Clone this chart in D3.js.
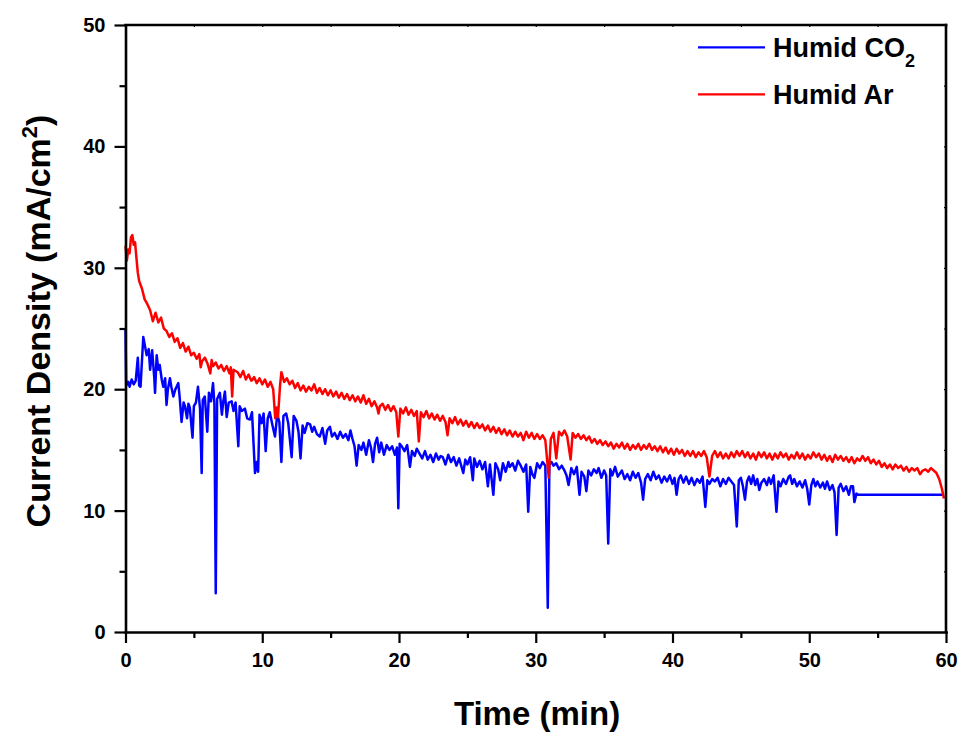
<!DOCTYPE html>
<html>
<head>
<meta charset="utf-8">
<script src="https://cdn.jsdelivr.net/npm/d3@7"></script>
<style>
  html, body { margin: 0; padding: 0; background: #fff; }
  svg { display: block; font-family: "Liberation Sans", Arial, sans-serif; font-weight: bold; }
</style>
</head>
<body>
<svg id="chart" width="963" height="733"></svg>
<script>
// ---------------- data ----------------
const xTicks = [0, 10, 20, 30, 40, 50, 60];
const xMinorTicks = [5, 15, 25, 35, 45, 55];
const yTicks = [0, 10, 20, 30, 40, 50];
const yMinorTicks = [5, 15, 25, 35, 45];
const seriesNames = ["Humid CO2", "Humid Ar"];
const seriesColors = ["#0000ff", "#ff0000"];

// Humid Ar: [time (min), current density (mA/cm2)]
const arData = [
[0,31.8],[0.1,30.6],[0.2,31.5],[0.3,31.2],[0.4,32.5],[0.5,32.7],[0.6,31.9],[0.7,32.1],[0.8,30.8],[0.9,29.6],
[1.0,28.9],[1.2,28.3],[1.4,27.4],[1.6,27.0],[1.8,26.5],[2.0,25.6],[2.2,26.3],[2.4,25.5],[2.6,25.9],[2.8,25.0],
[3.0,24.8],[3.2,24.3],[3.4,24.6],[3.6,23.9],[3.8,24.2],[4.0,23.4],[4.2,23.8],[4.4,23.1],[4.6,23.5],[4.8,22.8],
[5.0,23.0],[5.2,22.5],[5.4,22.9],[5.5,21.8],[5.6,22.3],[5.8,22.6],[6.0,22.1],[6.2,21.3],[6.3,22.4],[6.4,21.9],[6.6,22.2],[6.8,21.7],
[7.0,22.0],[7.2,21.5],[7.4,21.9],[7.6,21.3],[7.7,21.8],[7.8,19.4],[7.9,21.6],[8.2,21.4],[8.4,21.0],[8.6,21.5],[8.8,20.8],
[9.0,21.2],[9.2,20.7],[9.3,20.8],[9.4,21.0],[9.6,20.5],[9.8,20.9],[10.0,20.4],[10.2,20.8],[10.4,20.2],[10.6,20.6],[10.8,20.0],
[10.95,17.6],[11.05,18.5],[11.15,17.7],[11.3,20.3],[11.4,21.4],[11.6,20.6],[11.8,20.9],[12.0,20.4],[12.2,20.7],[12.4,20.1],
[12.6,20.5],[12.8,19.9],[13.0,20.3],[13.2,19.8],[13.4,20.2],[13.6,19.9],[13.8,20.4],[14.0,19.7],[14.2,20.1],[14.4,19.6],
[14.6,20.0],[14.8,19.5],[15.0,19.9],[15.2,19.4],[15.4,19.8],[15.6,19.3],[15.8,19.7],[16.0,19.2],[16.2,19.6],[16.4,19.1],
[16.6,19.5],[16.8,19.0],[17.0,19.4],[17.2,18.9],[17.4,19.5],[17.6,18.8],[17.8,19.2],[18.0,18.6],[18.2,19.0],[18.4,18.5],
[18.5,18.0],[18.6,18.6],[18.8,18.8],[19.0,18.3],[19.2,18.7],[19.4,18.2],[19.6,18.6],[19.8,18.1],[19.95,16.1],[20.1,18.4],
[20.3,18.0],[20.5,18.5],[20.7,17.9],[20.9,18.3],[21.1,17.8],[21.3,18.2],[21.45,15.7],[21.6,18.1],[21.8,17.7],[22.0,18.2],
[22.2,17.6],[22.4,18.0],[22.6,17.5],[22.8,17.9],[23.0,17.4],[23.2,17.8],[23.4,17.3],[23.55,16.2],[23.7,17.6],[23.9,17.2],
[24.1,17.7],[24.3,17.1],[24.5,17.5],[24.7,17.0],[24.9,17.4],[25.1,16.9],[25.3,17.3],[25.5,16.8],[25.7,17.2],[25.9,16.8],
[26.1,17.1],[26.3,16.6],[26.5,17.0],[26.7,16.5],[26.9,16.9],[27.1,16.4],[27.3,16.8],[27.5,16.3],[27.7,16.7],[27.9,16.2],
[28.1,16.6],[28.3,16.1],[28.5,16.5],[28.7,16.1],[28.9,16.4],[29.1,15.8],[29.3,16.5],[29.5,16.0],[29.7,16.4],[29.9,15.9],
[30.1,16.3],[30.3,15.9],[30.5,16.2],[30.7,15.8],[30.95,12.7],[31.1,15.9],[31.3,16.4],[31.5,14.3],[31.7,16.5],[31.9,16.2],
[32.1,16.6],[32.3,16.1],[32.55,14.2],[32.7,16.4],[32.9,16.0],[33.1,16.3],[33.3,15.9],[33.5,16.2],[33.7,15.8],[33.9,16.1],
[34.1,15.6],[34.3,15.9],[34.5,15.5],[34.7,15.8],[34.9,15.4],[35.1,15.7],[35.3,15.3],[35.5,15.6],[35.7,15.1],[35.9,15.5],
[36.1,15.2],[36.3,15.6],[36.5,15.1],[36.7,15.5],[36.9,15.0],[37.1,15.4],[37.3,15.1],[37.5,15.5],[37.7,15.0],[37.9,15.4],
[38.1,15.1],[38.3,15.5],[38.5,15.0],[38.7,15.3],[38.9,14.9],[39.1,15.3],[39.3,14.8],[39.5,15.2],[39.7,14.7],[39.9,15.1],
[40.1,14.6],[40.3,15.1],[40.5,14.7],[40.7,15.0],[40.9,14.5],[41.1,14.9],[41.3,14.5],[41.5,14.9],[41.7,14.4],[41.9,14.8],
[42.1,14.5],[42.3,14.9],[42.5,14.4],[42.7,12.8],[42.9,14.5],[43.1,14.9],[43.3,14.4],[43.5,14.8],[43.7,14.3],[43.9,14.7],
[44.1,14.3],[44.3,14.8],[44.5,14.4],[44.7,14.9],[44.9,14.5],[45.1,14.9],[45.3,14.4],[45.5,14.8],[45.7,14.3],[45.9,14.7],
[46.1,14.2],[46.3,14.8],[46.5,14.4],[46.7,14.8],[46.9,14.3],[47.1,14.7],[47.3,14.2],[47.5,14.7],[47.7,14.3],[47.9,14.8],
[48.1,14.4],[48.3,14.7],[48.5,14.2],[48.7,14.6],[48.9,14.3],[49.1,14.8],[49.3,14.3],[49.5,14.7],[49.7,14.2],[49.9,14.6],
[50.1,14.3],[50.3,14.8],[50.5,14.4],[50.7,14.7],[50.9,14.2],[51.1,14.6],[51.3,14.1],[51.5,14.5],[51.7,14.0],[51.9,14.6],
[52.1,14.2],[52.3,14.5],[52.5,14.1],[52.7,14.4],[52.9,14.0],[53.1,14.4],[53.3,13.9],[53.5,14.3],[53.7,14.1],[53.9,14.5],
[54.1,14.1],[54.3,14.4],[54.5,13.9],[54.7,14.2],[54.9,13.8],[55.1,14.1],[55.3,13.6],[55.5,13.9],[55.7,13.5],[55.9,13.8],
[56.1,13.4],[56.3,13.8],[56.5,13.5],[56.7,13.7],[56.9,13.3],[57.1,13.6],[57.3,13.2],[57.5,13.5],[57.7,13.3],[57.9,13.5],
[58.1,13.0],[58.3,13.3],[58.5,13.4],[58.7,13.2],[58.9,13.5],[59.1,13.3],[59.3,13.1],[59.5,12.6],[59.7,11.8],[59.85,11.0]
];

// Humid CO2: [time (min), current density (mA/cm2)]
const co2Data = [
[0,24.9],[0.05,20.3],[0.2,20.6],[0.3,20.2],[0.45,20.8],[0.6,20.4],[0.75,20.7],[0.9,22.6],[1.0,20.3],[1.1,20.2],
[1.3,24.3],[1.45,23.4],[1.55,22.8],[1.7,23.3],[1.8,21.6],[1.95,23.2],[2.1,21.0],[2.16,19.7],[2.28,22.8],[2.4,21.6],
[2.5,22.0],[2.65,20.8],[2.76,20.2],[2.9,20.9],[3.0,18.7],[3.1,20.0],[3.25,20.9],[3.35,20.2],[3.5,19.4],[3.65,20.0],
[3.86,20.5],[3.95,19.5],[4.1,17.3],[4.25,18.9],[4.35,18.6],[4.5,17.6],[4.6,18.8],[4.7,18.5],[4.9,16.0],[5.0,18.6],
[5.15,18.9],[5.3,20.2],[5.45,18.4],[5.57,13.1],[5.65,19.1],[5.8,19.4],[5.98,16.5],[6.1,19.7],[6.25,19.0],[6.4,20.5],
[6.5,18.8],[6.6,3.2],[6.7,19.2],[6.9,19.7],[7.05,17.9],[7.15,19.0],[7.27,19.8],[7.4,17.7],[7.55,18.9],[7.76,19.0],
[7.9,18.2],[8.05,18.9],[8.25,15.3],[8.35,18.6],[8.5,18.2],[8.73,18.4],[8.9,17.6],[9.1,17.5],[9.25,18.1],[9.47,13.1],
[9.6,14.0],[9.7,13.2],[9.8,17.9],[9.95,17.2],[10.1,18.0],[10.25,14.9],[10.4,17.6],[10.55,18.1],[10.75,17.0],[10.93,16.1],
[11.1,17.9],[11.25,17.3],[11.4,14.0],[11.55,17.8],[11.75,18.0],[11.9,17.2],[12.15,14.4],[12.3,17.8],[12.5,17.4],[12.65,16.5],
[12.8,14.3],[12.95,17.0],[13.1,16.4],[13.3,17.2],[13.5,17.1],[13.65,16.5],[13.8,16.9],[14.0,16.3],[14.2,16.1],[14.4,16.8],
[14.6,15.5],[14.75,16.6],[14.95,16.9],[15.1,16.1],[15.3,16.4],[15.5,15.9],[15.7,16.5],[15.9,16.0],[16.1,16.3],[16.3,15.8],
[16.45,16.6],[16.6,15.9],[16.75,15.3],[16.9,13.7],[17.05,15.4],[17.25,15.0],[17.4,15.6],[17.6,14.6],[17.8,15.8],[17.95,15.2],
[18.1,14.0],[18.25,15.5],[18.4,16.0],[18.55,14.8],[18.7,15.6],[18.9,14.6],[19.1,15.4],[19.3,15.0],[19.5,15.3],[19.7,14.6],
[19.85,15.2],[19.95,10.2],[20.05,15.5],[20.2,15.3],[20.4,14.9],[20.6,15.4],[20.8,13.6],[20.95,14.9],[21.15,14.5],[21.3,15.1],
[21.5,14.7],[21.7,14.3],[21.9,14.9],[22.1,14.2],[22.3,14.6],[22.5,14.0],[22.7,14.7],[22.9,14.2],[23.05,14.5],[23.2,14.4],
[23.4,13.8],[23.6,14.6],[23.8,14.0],[24.0,14.4],[24.2,13.7],[24.4,14.3],[24.6,13.5],[24.7,13.1],[24.85,14.2],[25.0,13.8],
[25.2,14.4],[25.4,12.5],[25.5,14.3],[25.7,13.6],[25.9,14.1],[26.1,13.4],[26.3,14.0],[26.5,12.0],[26.65,13.8],[26.9,11.3],
[27.05,13.9],[27.25,13.4],[27.4,12.5],[27.6,13.9],[27.8,13.2],[28.0,14.0],[28.1,13.6],[28.3,13.9],[28.5,13.3],[28.7,14.1],
[28.9,13.7],[29.1,13.2],[29.3,13.8],[29.45,9.9],[29.6,13.6],[29.75,13.0],[29.9,12.7],[30.1,13.9],[30.3,13.5],[30.5,14.0],
[30.7,13.7],[30.88,2.0],[31.0,13.8],[31.15,14.0],[31.3,13.7],[31.5,13.9],[31.7,13.4],[31.9,13.7],[32.1,13.3],[32.25,12.9],
[32.4,12.1],[32.6,13.5],[32.8,13.0],[33.0,13.6],[33.2,11.3],[33.35,13.2],[33.55,12.8],[33.7,11.6],[33.85,13.3],[34.05,12.9],
[34.25,13.4],[34.45,13.1],[34.6,13.5],[34.8,12.7],[35.0,13.3],[35.15,12.9],[35.3,7.3],[35.45,13.4],[35.6,12.9],[35.8,13.6],
[36.0,12.8],[36.3,13.3],[36.5,12.6],[36.7,13.0],[36.9,12.5],[37.1,13.2],[37.3,12.7],[37.5,13.1],[37.7,12.3],[37.85,10.9],
[38.0,12.6],[38.2,13.0],[38.4,12.5],[38.6,13.2],[38.8,12.6],[39.0,12.9],[39.2,12.3],[39.4,12.8],[39.6,12.4],[39.8,12.9],
[40.0,12.2],[40.15,12.7],[40.3,11.3],[40.45,12.6],[40.6,12.9],[40.8,12.3],[41.0,12.8],[41.2,12.2],[41.4,12.7],[41.6,12.1],
[41.8,12.6],[42.0,12.3],[42.2,12.8],[42.4,10.3],[42.55,12.5],[42.7,12.2],[42.9,12.6],[43.1,12.4],[43.3,12.7],[43.5,12.0],
[43.7,12.6],[43.9,12.2],[44.1,12.7],[44.3,12.4],[44.5,12.1],[44.7,8.7],[44.85,12.5],[45.0,12.7],[45.15,12.0],[45.3,10.9],
[45.45,12.4],[45.6,12.8],[45.75,12.2],[45.9,12.9],[46.05,12.1],[46.2,12.6],[46.35,11.7],[46.5,12.3],[46.7,12.6],[46.9,12.1],
[47.05,12.7],[47.2,12.2],[47.4,12.9],[47.6,9.9],[47.75,12.4],[47.9,12.0],[48.1,12.6],[48.3,12.2],[48.5,12.8],[48.6,12.9],
[48.75,12.2],[48.9,12.6],[49.1,12.0],[49.3,12.4],[49.5,11.9],[49.7,12.5],[49.85,11.8],[50.0,10.5],[50.15,12.1],[50.3,12.6],
[50.45,12.0],[50.6,12.4],[50.8,11.9],[51.0,12.3],[51.15,11.8],[51.3,12.4],[51.5,11.7],[51.7,12.1],[51.85,11.5],[52.0,8.0],
[52.15,11.9],[52.3,12.2],[52.5,11.6],[52.7,12.0],[52.9,11.3],[53.05,12.0],[53.2,12.0],[53.3,10.7],[53.45,11.4],[53.6,11.3],
[59.8,11.3]
];

// ---------------- drawing ----------------
const svg = d3.select("#chart");
const x = d3.scaleLinear().domain([0, 60]).range([125.5, 946]);
const y = d3.scaleLinear().domain([0, 50]).range([632, 25]);
const axisW = 2.6;

// data lines
const line = d3.line().x(d => x(d[0])).y(d => y(d[1]));
[[co2Data, seriesColors[0]], [arData, seriesColors[1]]].forEach(([data, color]) => {
  svg.append("path").datum(data)
    .attr("d", line)
    .attr("fill", "none")
    .attr("stroke", color)
    .attr("stroke-width", 2.5)
    .attr("stroke-linejoin", "round");
});

// frame (top & right)
svg.append("line").attr("x1", x(0)).attr("x2", x(60)).attr("y1", y(50)).attr("y2", y(50))
  .attr("stroke", "#000").attr("stroke-width", axisW).attr("stroke-linecap", "square");
svg.append("line").attr("x1", x(60)).attr("x2", x(60)).attr("y1", y(50)).attr("y2", y(0))
  .attr("stroke", "#000").attr("stroke-width", axisW).attr("stroke-linecap", "square");

function styleAxis(g) {
  g.select(".domain").attr("stroke-width", axisW).attr("stroke-linecap", "square");
  g.selectAll(".tick line").attr("stroke-width", 2.2);
}

// x axis
const gx = svg.append("g").attr("transform", `translate(0,${y(0)})`)
  .call(d3.axisBottom(x).tickValues(xTicks).tickSize(11).tickSizeOuter(0).tickPadding(10).tickFormat(d3.format("d")));
styleAxis(gx);
gx.selectAll("text").attr("font-size", 20).attr("font-weight", "bold")
  .attr("font-family", "'Liberation Sans', Arial, sans-serif").attr("fill", "#000");
svg.append("g").attr("transform", `translate(0,${y(0)})`)
  .call(d3.axisBottom(x).tickValues(xMinorTicks).tickSize(6).tickFormat(""))
  .call(g => { g.select(".domain").remove(); g.selectAll(".tick line").attr("stroke-width", 2.2); });

// y axis
const gy = svg.append("g").attr("transform", `translate(${x(0)},0)`)
  .call(d3.axisLeft(y).tickValues(yTicks).tickSize(11).tickSizeOuter(0).tickPadding(9).tickFormat(d3.format("d")));
styleAxis(gy);
gy.selectAll("text").attr("font-size", 20).attr("font-weight", "bold")
  .attr("font-family", "'Liberation Sans', Arial, sans-serif").attr("fill", "#000");
svg.append("g").attr("transform", `translate(${x(0)},0)`)
  .call(d3.axisLeft(y).tickValues(yMinorTicks).tickSize(6).tickFormat(""))
  .call(g => { g.select(".domain").remove(); g.selectAll(".tick line").attr("stroke-width", 2.2); });

// tiny inward ticks on top and right frame
svg.append("g").attr("transform", `translate(0,${y(50)})`)
  .call(d3.axisBottom(x).tickValues(xTicks.concat(xMinorTicks)).tickSize(2).tickFormat(""))
  .call(g => { g.select(".domain").remove(); g.selectAll(".tick line").attr("stroke-width", 1.2); });
svg.append("g").attr("transform", `translate(${x(60)},0)`)
  .call(d3.axisLeft(y).tickValues(yTicks.concat(yMinorTicks)).tickSize(2).tickFormat(""))
  .call(g => { g.select(".domain").remove(); g.selectAll(".tick line").attr("stroke-width", 1.2); });

// axis titles
svg.append("text")
  .attr("x", 537).attr("y", 725)
  .attr("text-anchor", "middle").attr("font-size", 33).attr("fill", "#000")
  .text("Time (min)");

const yt = svg.append("text")
  .attr("transform", "translate(50,321) rotate(-90)")
  .attr("text-anchor", "middle").attr("font-size", 34).attr("fill", "#000");
yt.append("tspan").text("Current Density (mA/cm");
yt.append("tspan").attr("font-size", 22).attr("dy", -13).text("2");
yt.append("tspan").attr("dy", 13).text(")");

// legend
const legend = svg.append("g");
const legendRows = [
  { name: "Humid CO", sub: "2", color: seriesColors[0], ly: 47.3, ty: 57.3 },
  { name: "Humid Ar", sub: null, color: seriesColors[1], ly: 94.3, ty: 104.3 }
];
legendRows.forEach(r => {
  legend.append("line").attr("x1", 698).attr("x2", 765).attr("y1", r.ly).attr("y2", r.ly)
    .attr("stroke", r.color).attr("stroke-width", 2.2);
  const t = legend.append("text").attr("x", 773).attr("y", r.ty).attr("font-size", 27).attr("fill", "#000");
  t.append("tspan").text(r.name);
  if (r.sub) t.append("tspan").attr("font-size", 18).attr("dy", 10).text(r.sub);
});
</script>
</body>
</html>
